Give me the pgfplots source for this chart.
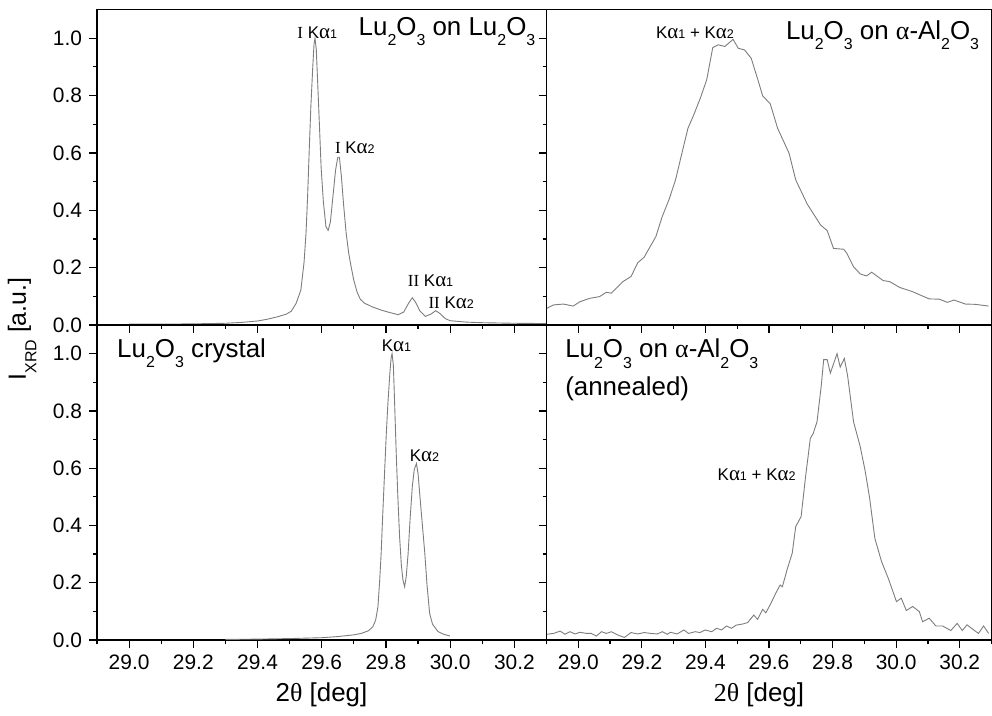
\documentclass[border=0pt]{standalone}
\usepackage{fontspec}
\setmainfont{Liberation Sans}
\newfontfamily\serif{Liberation Serif}
\usepackage{pgfplots}
\pgfplotsset{compat=1.18}

\definecolor{curvegray}{RGB}{125,125,125}

% subscripts and peak names
\newcommand{\sub}[1]{\raisebox{-0.42em}{\fontsize{8}{8}\selectfont #1}}
\newcommand{\ka}[1]{K{\serif\fontsize{10.5}{10}\selectfont α}{\fontsize{6.3}{6}\selectfont #1}}
\newcommand{\af}{\fontsize{8.5}{9}\selectfont}
\newcommand{\tf}{\fontsize{13}{15}\selectfont}

\pgfplotsset{
  panel/.style={
    scale only axis, clip=false,
    xmin=28.9, xmax=30.3, ymin=0, ymax=1.1,
    xtick={29.0,29.2,29.4,29.6,29.8,30.0,30.2},
    minor xtick={28.9,29.1,29.3,29.5,29.7,29.9,30.1,30.3},
    ytick={0,0.2,0.4,0.6,0.8,1.0},
    minor ytick={0.1,0.3,0.5,0.7,0.9},
    tick align=outside, xtick pos=bottom, ytick pos=left,
    major tick length=4bp, minor tick length=2bp,
    axis line style={line width=0.6bp},
    tick style={line width=0.6bp, black},
    tick label style={font=\fontsize{10.5}{12}\selectfont},
    /pgf/number format/fixed,
    /pgf/number format/fixed zerofill,
    /pgf/number format/precision=1,
    /pgf/number format/assume math mode=true,
  },
  curve/.style={color=curvegray, line width=0.45bp, no marks},
}

\begin{document}
\begin{tikzpicture}
\path[use as bounding box] (0,0) rectangle (496bp,358bp);

% === arriba izquierda: Lu2O3 on Lu2O3 ===
\begin{axis}[panel, at={(48.5bp,195.5bp)}, anchor=south west,
    width=224.75bp, height=157.75bp, xticklabels={}]
\addplot[curve] coordinates {
(29.00,0.003) (29.10,0.003) (29.20,0.004) (29.30,0.006) (29.35,0.009)
(29.40,0.014) (29.43,0.020) (29.46,0.028) (29.49,0.038) (29.505,0.048)
(29.52,0.075) (29.535,0.122) (29.545,0.22) (29.551,0.32) (29.556,0.45)
(29.561,0.61) (29.566,0.76) (29.572,0.90) (29.576,0.98) (29.579,1.00)
(29.583,0.96) (29.5875,0.84) (29.593,0.69) (29.598,0.55) (29.605,0.43)
(29.613,0.343) (29.620,0.33) (29.627,0.36) (29.635,0.45) (29.643,0.54)
(29.650,0.585) (29.655,0.585) (29.661,0.52) (29.668,0.42) (29.676,0.32)
(29.684,0.25) (29.692,0.20) (29.700,0.155) (29.710,0.115) (29.720,0.09)
(29.733,0.076) (29.76,0.062) (29.785,0.052) (29.81,0.044) (29.838,0.036)
(29.855,0.045) (29.870,0.075) (29.882,0.095) (29.892,0.08) (29.905,0.05)
(29.923,0.03) (29.940,0.038) (29.955,0.05) (29.968,0.04) (29.985,0.022)
(30.00,0.015) (30.05,0.010) (30.10,0.008) (30.20,0.006) (30.30,0.005)
};
\node[anchor=base east, font=\tf] at (axis cs:30.287,1.011) {Lu\sub{2}O\sub{3} on Lu\sub{2}O\sub{3}};
\node[anchor=base, font=\af] at (axis cs:29.586,1.0) {{\serif I} \ka{1}};
\node[anchor=base, font=\af] at (axis cs:29.703,0.599) {{\serif I} \ka{2}};
\node[anchor=base, font=\af] at (axis cs:29.939,0.134) {{\serif II} \ka{1}};
\node[anchor=base, font=\af] at (axis cs:30.003,0.058) {{\serif II} \ka{2}};
\end{axis}

% === arriba derecha: Lu2O3 on alpha-Al2O3 ===
\begin{axis}[panel, at={(273.25bp,195.5bp)}, anchor=south west,
    width=222.5bp, height=157.75bp, xticklabels={}, yticklabels={}]
\addplot[curve] coordinates {
(28.901,0.058) (28.922,0.070) (28.953,0.073) (28.984,0.066) (29.005,0.081)
(29.036,0.093) (29.067,0.099) (29.088,0.114) (29.104,0.111) (29.140,0.151)
(29.166,0.169) (29.187,0.217) (29.207,0.236) (29.244,0.308) (29.264,0.378)
(29.285,0.436) (29.306,0.506) (29.321,0.576) (29.345,0.686) (29.363,0.732)
(29.384,0.791) (29.404,0.855) (29.423,0.967) (29.440,0.977) (29.461,0.971)
(29.487,0.996) (29.503,0.965) (29.523,0.959) (29.544,0.930) (29.565,0.855)
(29.580,0.799) (29.604,0.771) (29.627,0.686) (29.663,0.599) (29.684,0.506)
(29.720,0.422) (29.762,0.349) (29.783,0.329) (29.803,0.267) (29.835,0.264)
(29.845,0.250) (29.866,0.203) (29.887,0.178) (29.907,0.171) (29.923,0.184)
(29.959,0.155) (29.980,0.151) (30.011,0.131) (30.052,0.116) (30.083,0.101)
(30.104,0.091) (30.136,0.090) (30.161,0.079) (30.182,0.087) (30.218,0.073)
(30.249,0.072) (30.291,0.066)
};
\node[anchor=base east, font=\tf] at (axis cs:30.283,0.997) {Lu\sub{2}O\sub{3} on {\serif α}-Al\sub{2}O\sub{3}};
\node[anchor=base, font=\af] at (axis cs:29.367,0.998) {\ka{1} + \ka{2}};
\end{axis}

% === abajo izquierda: cristal ===
\begin{axis}[panel, at={(48.5bp,38bp)}, anchor=south west,
    width=224.75bp, height=157.5bp]
\addplot[curve] coordinates {
(29.30,0.002) (29.40,0.003) (29.50,0.005) (29.60,0.008) (29.65,0.012)
(29.70,0.018) (29.723,0.023) (29.745,0.032) (29.759,0.046) (29.768,0.07)
(29.775,0.116) (29.780,0.20) (29.785,0.302) (29.790,0.44) (29.796,0.593)
(29.801,0.72) (29.806,0.826) (29.812,0.93) (29.816,0.985) (29.819,1.0)
(29.823,0.96) (29.827,0.826) (29.832,0.651) (29.837,0.50) (29.8425,0.36)
(29.848,0.26) (29.853,0.209) (29.858,0.186) (29.863,0.22) (29.869,0.302)
(29.875,0.42) (29.882,0.535) (29.888,0.595) (29.895,0.616) (29.900,0.58)
(29.905,0.512) (29.912,0.42) (29.921,0.302) (29.928,0.19) (29.936,0.093)
(29.945,0.055) (29.9625,0.029) (29.98,0.02) (29.999,0.014)
};
\node[anchor=base west, font=\tf] at (axis cs:28.941,0.988) {Lu\sub{2}O\sub{3} crystal};
\node[anchor=base, font=\af] at (axis cs:29.8325,1.006) {\ka{1}};
\node[anchor=base, font=\af] at (axis cs:29.92,0.622) {\ka{2}};
\end{axis}

% === abajo derecha: recocido ===
\begin{axis}[panel, at={(273.25bp,38bp)}, anchor=south west,
    width=222.5bp, height=157.5bp, yticklabels={}]
\addplot[curve] coordinates {
(28.901,0.020) (28.922,0.023) (28.943,0.031) (28.958,0.020) (28.974,0.029)
(28.990,0.021) (29.005,0.027) (29.026,0.023) (29.041,0.023) (29.057,0.014)
(29.073,0.029) (29.088,0.023) (29.104,0.029) (29.125,0.017) (29.145,0.009)
(29.166,0.026) (29.187,0.021) (29.207,0.026) (29.228,0.023) (29.249,0.021)
(29.264,0.029) (29.280,0.020) (29.290,0.027) (29.311,0.021) (29.332,0.035)
(29.347,0.023) (29.368,0.029) (29.383,0.026) (29.399,0.035) (29.420,0.029)
(29.435,0.041) (29.451,0.035) (29.466,0.049) (29.482,0.041) (29.497,0.052)
(29.518,0.056) (29.533,0.061) (29.552,0.087) (29.564,0.072) (29.580,0.107)
(29.590,0.095) (29.606,0.128) (29.621,0.163) (29.635,0.192) (29.642,0.186)
(29.658,0.250) (29.673,0.303) (29.684,0.396) (29.701,0.431) (29.715,0.570)
(29.730,0.704) (29.739,0.721) (29.751,0.762) (29.764,0.884) (29.772,0.979)
(29.783,0.979) (29.793,0.932) (29.814,1.000) (29.824,0.953) (29.837,0.983)
(29.847,0.925) (29.866,0.762) (29.887,0.675) (29.902,0.593) (29.916,0.500)
(29.933,0.355) (29.954,0.274) (29.975,0.216) (30.001,0.134) (30.016,0.146)
(30.032,0.103) (30.052,0.117) (30.073,0.099) (30.083,0.064) (30.104,0.076)
(30.125,0.049) (30.146,0.049) (30.172,0.033) (30.192,0.058) (30.208,0.033)
(30.223,0.053) (30.244,0.035) (30.259,0.023) (30.275,0.049) (30.291,0.023)
};
\node[anchor=base west, font=\tf] at (axis cs:28.937,0.986) {Lu\sub{2}O\sub{3} on {\serif α}-Al\sub{2}O\sub{3}};
\node[anchor=base west, font=\tf] at (axis cs:28.937,0.855) {(annealed)};
\node[anchor=base, font=\af] at (axis cs:29.561,0.556) {\ka{1} + \ka{2}};
\end{axis}

% === rótulos de ejes ===
\node[rotate=90, font=\fontsize{12.5}{14}\selectfont] at (11bp,193.5bp) {I\sub{XRD} [a.u.]};
\node[font=\tf] at (160.75bp,10.5bp) {2{\serif θ} [deg]};
\node[font=\tf] at (379.5bp,10.5bp) {{\serif 2θ} [deg]};
\end{tikzpicture}
\end{document}
